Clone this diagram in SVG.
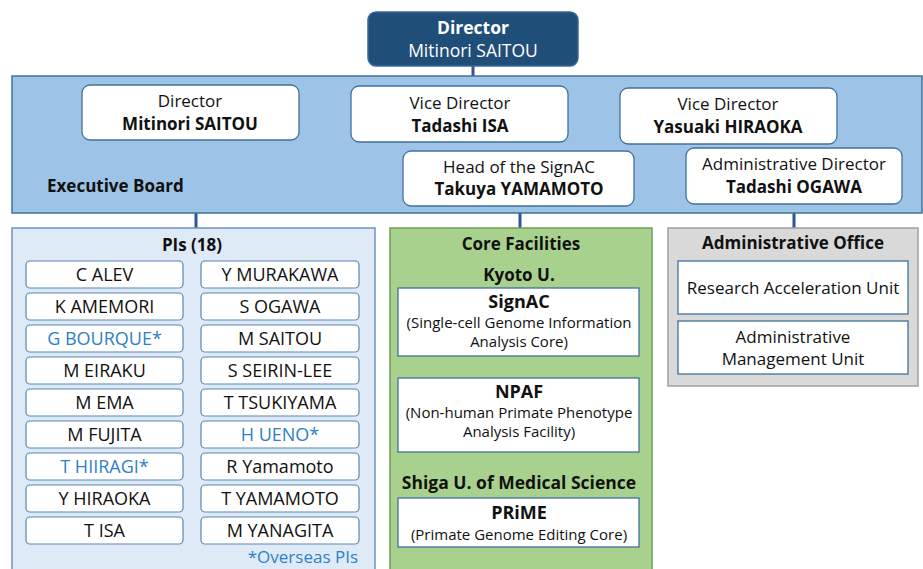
<svg xmlns="http://www.w3.org/2000/svg" width="923" height="569" viewBox="0 0 923 569">
<style>
text{font-family:"Open Sans","Noto Sans","Liberation Sans",sans-serif;text-anchor:middle;fill:#111}
.b{font-weight:bold}
.t17{font-size:17px}
.t18{font-size:18px}
.t15{font-size:15px}
.wbox{fill:#fff;stroke:#41719C;stroke-width:1.3}
.pi{fill:#fff;stroke:#5B86B5;stroke-width:1.2}
.blue{fill:#2F80C8}
.conn{stroke:#2F5597;stroke-width:3;fill:none}
</style>
<g id="connectors">
<line class="conn" x1="473" y1="66" x2="473" y2="77"/>
<line class="conn" x1="196" y1="213" x2="196" y2="229"/>
<line class="conn" x1="520" y1="213" x2="520" y2="229"/>
<line class="conn" x1="794" y1="213" x2="794" y2="229"/>
</g>
<g id="top-director">
<rect x="368" y="12" width="210" height="54" rx="8" fill="#1F4E79" stroke="#3C6A96" stroke-width="1.5"/>
<text x="473" y="34" class="b" font-size="17.5" style="fill:#fff">Director</text>
<text x="473" y="57" font-size="17.5" style="fill:#fff">Mitinori SAITOU</text>
</g>
<g id="executive-board">
<rect x="12" y="76" width="910" height="137" fill="#9DC3E6" stroke="#41719C" stroke-width="1.5"/>
<text x="47" y="192" class="b t17" style="text-anchor:start">Executive Board</text>
</g>
<g id="eb-director">
<rect class="wbox" x="82" y="85" width="217" height="55" rx="8"/>
<text x="190" y="107" class="t17">Director</text>
<text x="190" y="130" class="t17 b">Mitinori SAITOU</text>
</g>
<g id="eb-vice-isa">
<rect class="wbox" x="351" y="86" width="217" height="56" rx="8"/>
<text x="460" y="109" class="t17">Vice Director</text>
<text x="460" y="132" class="t17 b">Tadashi ISA</text>
</g>
<g id="eb-vice-hiraoka">
<rect class="wbox" x="620" y="88" width="217" height="56" rx="8"/>
<text x="728" y="110" class="t17">Vice Director</text>
<text x="728" y="133" class="t17 b">Yasuaki HIRAOKA</text>
</g>
<g id="eb-head-signac">
<rect class="wbox" x="403" y="151" width="231" height="55" rx="8"/>
<text x="519" y="173" class="t17">Head of the SignAC</text>
<text x="519" y="195" class="t17 b">Takuya YAMAMOTO</text>
</g>
<g id="eb-admin-director">
<rect class="wbox" x="686" y="148" width="216" height="56" rx="8"/>
<text x="794" y="170" class="t17">Administrative Director</text>
<text x="794" y="193" class="t17 b">Tadashi OGAWA</text>
</g>
<g id="pis">
<rect x="12" y="228" width="363" height="345" fill="#DEEBF7" stroke="#6F93BD" stroke-width="1.5"/>
<text x="192" y="251" class="t17 b">PIs (18)</text>
<g>
<rect class="pi" x="26" y="261" width="157" height="27" rx="4"/><text x="104.5" y="281" class="t18">C ALEV</text>
<rect class="pi" x="26" y="293" width="157" height="27" rx="4"/><text x="104.5" y="313" class="t18">K AMEMORI</text>
<rect class="pi" x="26" y="325" width="157" height="27" rx="4"/><text x="104.5" y="345" class="t18 blue">G BOURQUE*</text>
<rect class="pi" x="26" y="357" width="157" height="27" rx="4"/><text x="104.5" y="377" class="t18">M EIRAKU</text>
<rect class="pi" x="26" y="389" width="157" height="27" rx="4"/><text x="104.5" y="409" class="t18">M EMA</text>
<rect class="pi" x="26" y="421" width="157" height="27" rx="4"/><text x="104.5" y="441" class="t18">M FUJITA</text>
<rect class="pi" x="26" y="453" width="157" height="27" rx="4"/><text x="104.5" y="473" class="t18 blue">T HIIRAGI*</text>
<rect class="pi" x="26" y="485" width="157" height="27" rx="4"/><text x="104.5" y="505" class="t18">Y HIRAOKA</text>
<rect class="pi" x="26" y="517" width="157" height="27" rx="4"/><text x="104.5" y="537" class="t18">T ISA</text>
</g>
<g>
<rect class="pi" x="201" y="261" width="158" height="27" rx="4"/><text x="280" y="281" class="t18">Y MURAKAWA</text>
<rect class="pi" x="201" y="293" width="158" height="27" rx="4"/><text x="280" y="313" class="t18">S OGAWA</text>
<rect class="pi" x="201" y="325" width="158" height="27" rx="4"/><text x="280" y="345" class="t18">M SAITOU</text>
<rect class="pi" x="201" y="357" width="158" height="27" rx="4"/><text x="280" y="377" class="t18">S SEIRIN-LEE</text>
<rect class="pi" x="201" y="389" width="158" height="27" rx="4"/><text x="280" y="409" class="t18">T TSUKIYAMA</text>
<rect class="pi" x="201" y="421" width="158" height="27" rx="4"/><text x="280" y="441" class="t18 blue">H UENO*</text>
<rect class="pi" x="201" y="453" width="158" height="27" rx="4"/><text x="280" y="473" class="t18">R Yamamoto</text>
<rect class="pi" x="201" y="485" width="158" height="27" rx="4"/><text x="280" y="505" class="t18">T YAMAMOTO</text>
<rect class="pi" x="201" y="517" width="158" height="27" rx="4"/><text x="280" y="537" class="t18">M YANAGITA</text>
</g>
<text x="358" y="563" class="t17 blue" style="text-anchor:end">*Overseas PIs</text>
</g>
<g id="core-facilities">
<rect x="390" y="228" width="262" height="345" fill="#A9D18E" stroke="#6E9E5A" stroke-width="1.5"/>
<text x="521" y="250" class="t17 b">Core Facilities</text>
<text x="519" y="281" class="t17 b">Kyoto U.</text>
<g id="signac">
<rect class="wbox" x="398" y="288" width="241" height="68"/>
<text x="519" y="308" class="t18 b">SignAC</text>
<text x="519" y="328" class="t15">(Single-cell Genome Information</text>
<text x="519" y="347" class="t15">Analysis Core)</text>
</g>
<g id="npaf">
<rect class="wbox" x="398" y="378" width="241" height="74"/>
<text x="519" y="398" class="t18 b">NPAF</text>
<text x="519" y="418" class="t15">(Non-human Primate Phenotype</text>
<text x="519" y="437" class="t15">Analysis Facility)</text>
</g>
<text x="519" y="489" class="b" font-size="17.5">Shiga U. of Medical Science</text>
<g id="prime">
<rect class="wbox" x="398" y="498" width="241" height="49"/>
<text x="519" y="519" class="t18 b">PRiME</text>
<text x="519" y="540" class="t15">(Primate Genome Editing Core)</text>
</g>
</g>
<g id="administrative-office">
<rect x="668" y="228" width="250" height="158" fill="#D9D9D9" stroke="#A0A0A0" stroke-width="1.5"/>
<text x="793" y="249" class="t17 b">Administrative Office</text>
<g id="rau">
<rect class="wbox" x="678" y="261" width="230" height="53"/>
<text x="793" y="294" class="t17">Research Acceleration Unit</text>
</g>
<g id="amu">
<rect class="wbox" x="678" y="321" width="230" height="53"/>
<text x="793" y="343" class="t17">Administrative</text>
<text x="793" y="365" class="t17">Management Unit</text>
</g>
</g>
</svg>
